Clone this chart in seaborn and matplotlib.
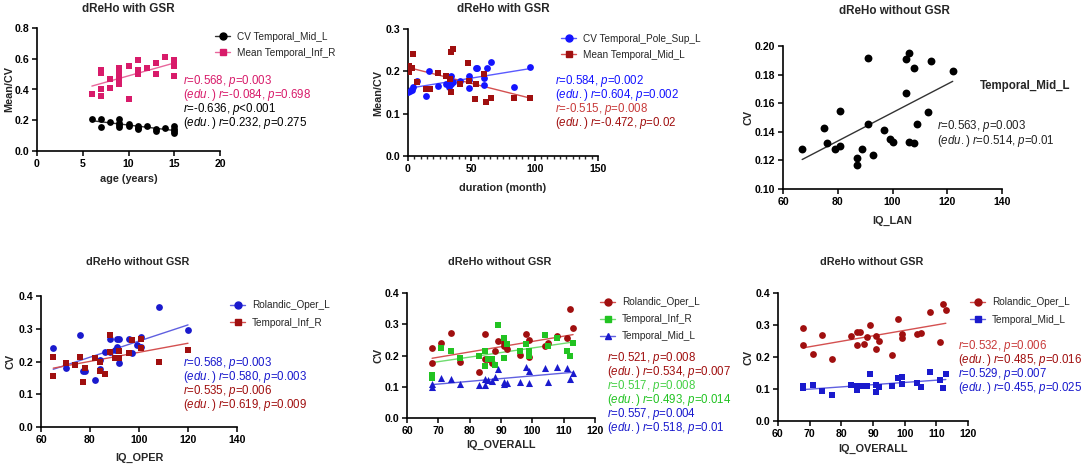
import matplotlib
matplotlib.use("Agg")
import matplotlib.pyplot as plt
from matplotlib.lines import Line2D
from matplotlib.ticker import MultipleLocator, FormatStrFormatter
import seaborn as sns

sns.set_style("ticks")
plt.rcParams["font.family"] = ["Liberation Sans", "DejaVu Sans"]
plt.rcParams["mathtext.fontset"] = "custom"
plt.rcParams["mathtext.rm"] = "Liberation Sans"
plt.rcParams["mathtext.it"] = "Liberation Sans:italic"
plt.rcParams["mathtext.bf"] = "Liberation Sans:bold"

W, H = 1084, 469

PINK, PINK_LINE = "#d81b6a", "#e8679c"
BLACK, BLACK_LINE = "#000000", "#333333"
BLUE, BLUE_LINE = "#1414ff", "#5a5aff"
BLUE2, BLUE2_LINE = "#1a1acd", "#6060e0"
DRED, DRED_LINE = "#a00f0f", "#d45050"
LRED = "#c83a3a"
GREEN, GREEN_LINE = "#22c322", "#70dc70"
LGREEN = "#45d045"

# ---- panel 1: age ----
age_cv = [6, 7, 7, 8, 9, 9, 9, 9, 10, 10, 11, 11, 11, 12, 13, 13, 14, 15, 15, 15, 15]
cv_mid_l = [0.21, 0.21, 0.155, 0.19, 0.205, 0.185, 0.17, 0.155, 0.175, 0.165, 0.165,
            0.15, 0.14, 0.165, 0.14, 0.13, 0.15, 0.16, 0.14, 0.13, 0.12]
age_mean = [6, 7, 7, 7, 7, 8, 8, 9, 9, 9, 9, 10, 10, 11, 11, 11, 12, 13, 13, 14, 15, 15, 15]
mean_inf_r = [0.37, 0.53, 0.51, 0.40, 0.355, 0.47, 0.41, 0.54, 0.50, 0.46, 0.435, 0.55,
              0.34, 0.595, 0.53, 0.50, 0.54, 0.575, 0.50, 0.61, 0.59, 0.55, 0.485]

# ---- panel 2: duration ----
dur_cv = [0, 1.3, 3.4, 4, 7.4, 14.5, 16.6, 23.7, 29.7, 32, 33.7, 33.7, 35.5, 40.8,
          47.9, 47.9, 47.9, 53.4, 54.7, 60, 60, 62.4, 65.8, 84, 96]
cv_pole_sup_l = [0.150, 0.154, 0.156, 0.164, 0.178, 0.142, 0.201, 0.166, 0.170, 0.164,
                 0.190, 0.170, 0.174, 0.178, 0.189, 0.180, 0.160, 0.207, 0.207, 0.184,
                 0.168, 0.207, 0.223, 0.164, 0.210]
dur_mean = [0.8, 0.8, 3.4, 4, 7, 14.5, 17, 23.7, 29.7, 33, 33.7, 33.7, 35.5, 40.8,
            47.4, 47.9, 53.9, 52.9, 59.7, 61.8, 65.8, 84, 96]
mean_mid_l = [0.212, 0.198, 0.209, 0.240, 0.174, 0.159, 0.159, 0.197, 0.189, 0.183,
              0.152, 0.246, 0.253, 0.170, 0.219, 0.178, 0.170, 0.134, 0.194, 0.128,
              0.138, 0.138, 0.136]

# ---- panel 3: IQ_LAN ----
iq_lan = [67, 75, 76, 79, 81, 81, 87, 87, 89, 91, 91, 93, 97, 99, 100, 105, 105, 106,
          106, 108, 108, 109, 113, 114, 122]
cv_lan = [0.1279, 0.1428, 0.1319, 0.1279, 0.1547, 0.1302, 0.1219, 0.1165, 0.1279,
          0.1914, 0.1453, 0.1237, 0.1412, 0.1347, 0.1330, 0.1672, 0.1912, 0.1953,
          0.1330, 0.1844, 0.1323, 0.1453, 0.1535, 0.1895, 0.1826]

# ---- panel 4: IQ_OPER ----
iq_oper_a = [65, 70, 76, 77, 78, 82, 84, 84, 86, 88, 88, 90, 91, 91, 92, 92, 96, 97,
             99, 101, 101, 108, 120]
cv_rol_oper = [0.24, 0.18, 0.28, 0.171, 0.171, 0.143, 0.205, 0.178, 0.228, 0.27, 0.228,
               0.235, 0.245, 0.27, 0.27, 0.195, 0.27, 0.226, 0.25, 0.245, 0.275, 0.365,
               0.295]
iq_oper_b = [65, 65, 70, 74, 76, 77, 78, 82, 84, 84, 86, 88, 88, 90, 91, 92, 92, 96, 97,
             101, 101, 108, 120]
cv_inf_r_oper = [0.215, 0.157, 0.196, 0.188, 0.215, 0.137, 0.179, 0.21, 0.2, 0.172,
                 0.163, 0.282, 0.228, 0.21, 0.21, 0.232, 0.21, 0.226, 0.265, 0.268,
                 0.24, 0.2, 0.235]

# ---- panel 5: IQ_OVERALL, three regions ----
iq_all = [68, 68, 71, 74, 77, 83, 85, 85, 86, 87, 88, 89, 91, 91, 92, 96, 98, 99, 99,
          104, 105, 108, 111, 112, 113]
cv_rol_all = [0.224, 0.176, 0.24, 0.272, 0.18, 0.147, 0.268, 0.188, 0.188, 0.177, 0.215,
              0.245, 0.24, 0.232, 0.221, 0.203, 0.268, 0.249, 0.196, 0.232, 0.24, 0.261,
              0.255, 0.35, 0.287]
cv_inf_r_all = [0.139, 0.129, 0.225, 0.214, 0.192, 0.2, 0.214, 0.168, 0.188, 0.188, 0.17,
                0.299, 0.256, 0.193, 0.237, 0.213, 0.237, 0.213, 0.2, 0.267, 0.229,
                0.255, 0.214, 0.2, 0.24]
cv_mid_l_all = [0.11, 0.099, 0.129, 0.124, 0.108, 0.105, 0.126, 0.105, 0.123, 0.117,
                0.13, 0.158, 0.115, 0.109, 0.112, 0.115, 0.163, 0.15, 0.112, 0.16, 0.115,
                0.163, 0.161, 0.126, 0.145]

# ---- panel 6: IQ_OVERALL, two regions ----
cv_rol_all2 = [0.291, 0.236, 0.209, 0.268, 0.194, 0.267, 0.277, 0.238, 0.277, 0.242,
               0.261, 0.299, 0.267, 0.224, 0.25, 0.207, 0.319, 0.273, 0.259, 0.272,
               0.274, 0.34, 0.248, 0.366, 0.348]
cv_mid_l_all2 = [0.11, 0.104, 0.111, 0.094, 0.081, 0.112, 0.11, 0.096, 0.11, 0.11, 0.11,
                 0.147, 0.113, 0.092, 0.107, 0.11, 0.134, 0.138, 0.115, 0.119, 0.107,
                 0.152, 0.128, 0.104, 0.146]


fig = plt.figure(figsize=(W / 100, H / 100), dpi=100)


def fx(px):
    return px / W


def fy(py):
    return 1 - py / H


def make_axes(box, xlim, xstep, ylim, ystep, yfmt):
    left, top, right, bottom = box
    ax = fig.add_axes([fx(left), fy(bottom), (right - left) / W, (bottom - top) / H])
    ax.set_xlim(*xlim)
    ax.set_ylim(*ylim)
    ax.xaxis.set_major_locator(MultipleLocator(xstep))
    ax.yaxis.set_major_locator(MultipleLocator(ystep))
    ax.yaxis.set_major_formatter(FormatStrFormatter(yfmt))
    sns.despine(ax=ax)
    for s in ("left", "bottom"):
        ax.spines[s].set_linewidth(1.2)
        ax.spines[s].set_color("black")
    ax.tick_params(labelsize=7.6, length=3.5, width=1.1, pad=2, colors="black")
    for lbl in ax.get_xticklabels() + ax.get_yticklabels():
        lbl.set_fontweight("bold")
    return ax


def scatter_fit(ax, x, y, color, line_color, marker, s=24):
    sns.regplot(x=x, y=y, ax=ax, ci=None, marker=marker, truncate=True,
                scatter_kws=dict(color=color, s=s, linewidths=0, alpha=1, zorder=3),
                line_kws=dict(color=line_color, lw=1.0, zorder=2))


def labels(ax, xlabel, xlab_y, ylabel, ylab_x, box):
    left, top, right, bottom = box
    ax.set_xlabel(xlabel, fontsize=7.8, fontweight="bold", va="center")
    ax.set_ylabel(ylabel, fontsize=7.8, fontweight="bold", va="center")
    ax.xaxis.set_label_coords(fx((left + right) / 2), fy(xlab_y), transform=fig.transFigure)
    ax.yaxis.set_label_coords(fx(ylab_x), fy((top + bottom) / 2), transform=fig.transFigure)


def title(text, x, y, size=8.4):
    fig.text(fx(x), fy(y), text, ha="center", va="center", fontsize=size, fontweight="bold")


def legend(ax, entries, x, y, spacing=0.6):
    handles = [Line2D([0], [0], color=lc, lw=1, marker=m, markersize=5,
                      markerfacecolor=c, markeredgecolor=c, label=lab)
               for lab, c, lc, m in entries]
    ax.legend(handles=handles, loc="center left", bbox_to_anchor=(fx(x), fy(y)),
              bbox_transform=fig.transFigure, frameon=False, fontsize=7.2,
              handlelength=1.5, handletextpad=0.7, borderpad=0, borderaxespad=0,
              labelspacing=spacing)


def stats(lines, x, y0, dy=14, size=8.3):
    for i, (txt, c) in enumerate(lines):
        fig.text(fx(x), fy(y0 + i * dy), txt, color=c, fontsize=size,
                 ha="left", va="center")


def rp(r, p, edu=False, rel="="):
    head = r"$\mathit{(edu.)\ r}$" if edu else r"$\mathit{r}$"
    return head + "=" + r + ", " + r"$\mathit{p}$" + rel + p


# panel 1
b1 = (37, 28, 220, 151)
ax1 = make_axes(b1, (0, 20), 5, (0, 0.8), 0.2, "%.1f")
scatter_fit(ax1, age_cv, cv_mid_l, BLACK, BLACK_LINE, "o")
scatter_fit(ax1, age_mean, mean_inf_r, PINK, PINK_LINE, "s")
labels(ax1, "age (years)", 179, "Mean/CV", 9, b1)
title("dReHo with GSR", 128, 9)
legend(ax1, [("CV Temporal_Mid_L", BLACK, BLACK_LINE, "o"),
             ("Mean Temporal_Inf_R", PINK, PINK_LINE, "s")], 215, 45)
stats([(rp("0.568", "0.003"), PINK), (rp("-0.084", "0.698", True), PINK),
       (rp("-0.636", "0.001", rel="<"), BLACK), (rp("0.232", "0.275", True), BLACK)],
      183, 81)

# panel 2
b2 = (408, 29, 598, 156)
ax2 = make_axes(b2, (0, 150), 50, (0, 0.3), 0.1, "%.1f")
ax2.xaxis.set_minor_locator(MultipleLocator(5))
ax2.tick_params(axis="x", which="minor", length=2.2, width=1)
scatter_fit(ax2, dur_cv, cv_pole_sup_l, BLUE, BLUE_LINE, "o")
scatter_fit(ax2, dur_mean, mean_mid_l, DRED, DRED_LINE, "s")
labels(ax2, "duration (month)", 188, "Mean/CV", 378, b2)
title("dReHo with GSR", 503, 9)
legend(ax2, [("CV Temporal_Pole_Sup_L", BLUE, BLUE_LINE, "o"),
             ("Mean Temporal_Mid_L", DRED, DRED_LINE, "s")], 561, 47)
stats([(rp("0.584", "0.002"), BLUE), (rp("0.604", "0.002", True), BLUE),
       (rp("-0.515", "0.008"), LRED), (rp("-0.472", "0.02", True), DRED)],
      555, 81)

# panel 3
b3 = (783, 46, 1002, 189)
ax3 = make_axes(b3, (60, 140), 20, (0.10, 0.20), 0.02, "%.2f")
scatter_fit(ax3, iq_lan, cv_lan, BLACK, BLACK_LINE, "o", s=32)
labels(ax3, "IQ_LAN", 221, "CV", 748, b3)
title("dReHo without GSR", 894, 11)
fig.text(fx(980), fy(86), "Temporal_Mid_L", fontsize=8.3, fontweight="bold",
         ha="left", va="center")
stats([(rp("0.563", "0.003"), "#222222"), (rp("0.514", "0.01", True), "#222222")],
      937, 126, dy=14.5)

# panel 4
b4 = (41, 296, 237, 427)
ax4 = make_axes(b4, (60, 140), 20, (0, 0.4), 0.1, "%.1f")
scatter_fit(ax4, iq_oper_a, cv_rol_oper, BLUE2, BLUE2_LINE, "o")
scatter_fit(ax4, iq_oper_b, cv_inf_r_oper, DRED, DRED_LINE, "s")
labels(ax4, "IQ_OPER", 458, "CV", 10, b4)
title("dReHo without GSR", 138, 262, 7.8)
legend(ax4, [("Rolandic_Oper_L", BLUE2, BLUE2_LINE, "o"),
             ("Temporal_Inf_R", DRED, DRED_LINE, "s")], 230, 314, spacing=0.75)
stats([(rp("0.568", "0.003"), BLUE2), (rp("0.580", "0.003", True), BLUE2),
       (rp("0.535", "0.006"), DRED), (rp("0.619", "0.009", True), DRED)],
      183, 363)

# panel 5
b5 = (407, 293, 595, 418)
ax5 = make_axes(b5, (60, 120), 10, (0, 0.4), 0.1, "%.1f")
scatter_fit(ax5, iq_all, cv_rol_all, DRED, DRED_LINE, "o")
scatter_fit(ax5, iq_all, cv_inf_r_all, GREEN, GREEN_LINE, "s")
scatter_fit(ax5, iq_all, cv_mid_l_all, BLUE2, BLUE2_LINE, "^", s=26)
labels(ax5, "IQ_OVERALL", 445, "CV", 378, b5)
title("dReHo without GSR", 500, 262, 7.8)
legend(ax5, [("Rolandic_Oper_L", DRED, DRED_LINE, "o"),
             ("Temporal_Inf_R", GREEN, GREEN_LINE, "s"),
             ("Temporal_Mid_L", BLUE2, BLUE2_LINE, "^")], 600, 319, spacing=0.7)
stats([(rp("0.521", "0.008"), DRED), (rp("0.534", "0.007", True), DRED),
       (rp("0.517", "0.008"), LGREEN), (rp("0.493", "0.014", True), GREEN),
       (rp("0.557", "0.004"), BLUE2), (rp("0.518", "0.01", True), BLUE2)],
      607, 358)

# panel 6
b6 = (778, 293, 968, 421)
ax6 = make_axes(b6, (60, 120), 10, (0, 0.4), 0.1, "%.1f")
scatter_fit(ax6, iq_all, cv_rol_all2, DRED, DRED_LINE, "o")
scatter_fit(ax6, iq_all, cv_mid_l_all2, BLUE2, BLUE2_LINE, "s")
labels(ax6, "IQ_OVERALL", 449, "CV", 748, b6)
title("dReHo without GSR", 872, 262, 7.8)
legend(ax6, [("Rolandic_Oper_L", DRED, DRED_LINE, "o"),
             ("Temporal_Mid_L", BLUE2, BLUE2_LINE, "s")], 970, 311, spacing=0.75)
stats([(rp("0.532", "0.006"), LRED), (rp("0.485", "0.016", True), DRED),
       (rp("0.529", "0.007"), BLUE2), (rp("0.455", "0.025", True), BLUE2)],
      958, 346)

fig.savefig("out.png", dpi=100)
